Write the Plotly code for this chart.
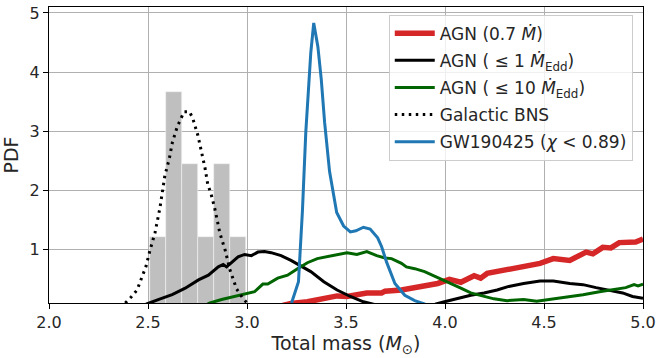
import plotly.graph_objects as go

# Galactic BNS histogram (bin left edges, width, density)
hist_left = [2.51, 2.591, 2.672, 2.753, 2.834, 2.915]
hist_width = [0.081] * 6
hist_pdf = [1.22, 3.67, 2.44, 1.22, 2.44, 1.22]

# Galactic BNS (dotted curve)
bns_m = [2.385, 2.415, 2.445, 2.475, 2.49, 2.51, 2.535, 2.56, 2.585, 2.607, 2.623,
         2.648, 2.682, 2.71, 2.727, 2.752, 2.772, 2.788, 2.802, 2.817, 2.837, 2.863,
         2.89, 2.913, 2.947, 2.975, 3.0]
bns_p = [0.1, 0.2, 0.32, 0.57, 0.72, 0.99, 1.28, 1.7, 2.25, 2.53, 2.81,
         3.08, 3.33, 3.33, 3.21, 2.93, 2.65, 2.38, 2.1, 1.96, 1.7, 1.28,
         0.99, 0.67, 0.34, 0.2, 0.1]

# GW190425 (chi < 0.89)
gw_m = [3.225, 3.26, 3.28, 3.297, 3.322, 3.337, 3.358, 3.375, 3.392, 3.417, 3.453,
        3.488, 3.522, 3.55, 3.588, 3.622, 3.66, 3.68, 3.705, 3.747, 3.797, 3.847, 3.9]
gw_p = [0.1, 0.46, 1.66, 2.99, 4.32, 4.83, 4.43, 3.88, 3.15, 2.32, 1.63,
        1.4, 1.3, 1.32, 1.38, 1.35, 1.2, 1.05, 0.79, 0.43, 0.23, 0.14, 0.08]

# AGN (0.7 Mdot)
red_m = [3.18, 3.222, 3.305, 3.355, 3.422, 3.455, 3.505, 3.555, 3.605, 3.68, 3.697,
         3.78, 3.822, 3.88, 3.963, 4.022, 4.08, 4.147, 4.18, 4.213, 4.263, 4.322, 4.38,
         4.48, 4.547, 4.63, 4.713, 4.747, 4.797, 4.838, 4.88, 4.963, 5.0]
red_p = [0.06, 0.09, 0.12, 0.155, 0.2, 0.22, 0.21, 0.24, 0.27, 0.27, 0.3,
         0.32, 0.35, 0.38, 0.43, 0.5, 0.45, 0.56, 0.52, 0.6, 0.63, 0.66, 0.71,
         0.77, 0.85, 0.82, 0.96, 0.93, 1.04, 1.03, 1.12, 1.13, 1.18]

# AGN (<= 1 Mdot_Edd)
blk_m = [2.49, 2.505, 2.555, 2.622, 2.688, 2.755, 2.805, 2.855, 2.88, 2.897, 2.922,
         2.955, 2.988, 3.022, 3.055, 3.088, 3.122, 3.172, 3.222, 3.272, 3.322, 3.388,
         3.455, 3.522, 3.588, 3.65, 3.75, 3.85, 3.95, 3.997, 4.063, 4.13, 4.197,
         4.263, 4.322, 4.397, 4.48, 4.547, 4.63, 4.697, 4.763, 4.83, 4.897, 4.947, 5.0]
blk_p = [0.08, 0.1, 0.16, 0.24, 0.35, 0.49, 0.57, 0.71, 0.75, 0.71, 0.79,
         0.88, 0.92, 0.9, 0.96, 0.97, 0.95, 0.9, 0.82, 0.73, 0.63, 0.46,
         0.32, 0.21, 0.12, 0.07, 0.04, 0.05, 0.08, 0.12, 0.18, 0.23, 0.27,
         0.32, 0.38, 0.43, 0.47, 0.47, 0.43, 0.41, 0.36, 0.32, 0.27, 0.21, 0.18]

# AGN (<= 10 Mdot_Edd)
grn_m = [2.8, 2.813, 2.872, 2.938, 2.988, 3.038, 3.08, 3.105, 3.155, 3.205, 3.255,
         3.305, 3.355, 3.405, 3.455, 3.505, 3.555, 3.605, 3.655, 3.697, 3.73, 3.78,
         3.805, 3.847, 3.897, 3.938, 3.972, 4.03, 4.08, 4.13, 4.18, 4.247, 4.313,
         4.397, 4.463, 4.53, 4.613, 4.697, 4.78, 4.847, 4.913, 4.955, 4.975, 5.0]
grn_p = [0.08, 0.1, 0.16, 0.21, 0.24, 0.29, 0.42, 0.42, 0.52, 0.57, 0.68,
         0.78, 0.85, 0.88, 0.92, 0.95, 0.92, 0.97, 0.9, 0.86, 0.85, 0.77,
         0.71, 0.68, 0.63, 0.57, 0.52, 0.43, 0.35, 0.27, 0.23, 0.17, 0.14,
         0.16, 0.13, 0.16, 0.2, 0.24, 0.29, 0.32, 0.36, 0.41, 0.39, 0.42]

x_ticks = [2.0, 2.5, 3.0, 3.5, 4.0, 4.5, 5.0]
x_ticklabels = ["2.0", "2.5", "3.0", "3.5", "4.0", "4.5", "5.0"]
y_ticks = [1, 2, 3, 4, 5]

FONT = "DejaVu Sans"

fig = go.Figure()
fig.add_trace(go.Bar(x=hist_left, y=hist_pdf, width=hist_width, offset=0,
                     marker=dict(color="#bfbfbf", line=dict(color="#f2f2f2", width=0.6)),
                     showlegend=False, hoverinfo="skip"))
fig.add_trace(go.Scatter(x=red_m, y=red_p, mode="lines", name="AGN (0.7 <i>Ṁ</i>)",
                         legendgroup="a", line=dict(color="#d62728", width=5.5)))
fig.add_trace(go.Scatter(x=blk_m, y=blk_p, mode="lines",
                         name="AGN ( ≤ 1 <i>Ṁ</i><sub>Edd</sub>)", legendgroup="b",
                         line=dict(color="black", width=3)))
fig.add_trace(go.Scatter(x=grn_m, y=grn_p, mode="lines",
                         name="AGN ( ≤ 10 <i>Ṁ</i><sub>Edd</sub>)", legendgroup="c",
                         line=dict(color="#006400", width=3)))
fig.add_trace(go.Scatter(x=bns_m, y=bns_p, mode="lines", name="Galactic BNS",
                         legendgroup="d",
                         line=dict(color="black", width=3, dash="2.5px,4.5px")))
fig.add_trace(go.Scatter(x=gw_m, y=gw_p, mode="lines",
                         name="GW190425 (<i>χ</i> &lt; 0.89)", legendgroup="e",
                         line=dict(color="#1f77b4", width=3)))

axis_common = dict(showline=True, mirror=True, linecolor="black", linewidth=1.3,
                   ticks="outside", ticklen=5, tickcolor="black", tickwidth=1,
                   showgrid=True, gridcolor="#b0b0b0", gridwidth=1, zeroline=False,
                   ticklabeloverflow="allow",
                   tickfont=dict(family=FONT, size=16, color="#262626"))

fig.update_layout(
    width=660, height=358,
    margin=dict(l=49, r=12, t=4, b=55),
    paper_bgcolor="white", plot_bgcolor="white",
    font=dict(family=FONT, size=16, color="#262626"),
    bargap=0,
    xaxis=dict(range=[2.0, 5.0], tickvals=x_ticks, ticktext=x_ticklabels,
               title=dict(text="Total mass (<i>M</i><sub>⊙</sub>)",
                          font=dict(family=FONT, size=19), standoff=4),
               **axis_common),
    yaxis=dict(range=[0.1, 5.1], tickvals=y_ticks,
               title=dict(text="PDF", font=dict(family=FONT, size=19), standoff=6),
               **axis_common),
    legend=dict(x=0.572, y=0.974, xanchor="left", yanchor="top",
                bgcolor="rgba(255,255,255,0.8)", bordercolor="#cccccc", borderwidth=1,
                font=dict(family=FONT, size=17, color="#262626"),
                tracegroupgap=2, itemwidth=40),
)

fig.write_html("out.html")
